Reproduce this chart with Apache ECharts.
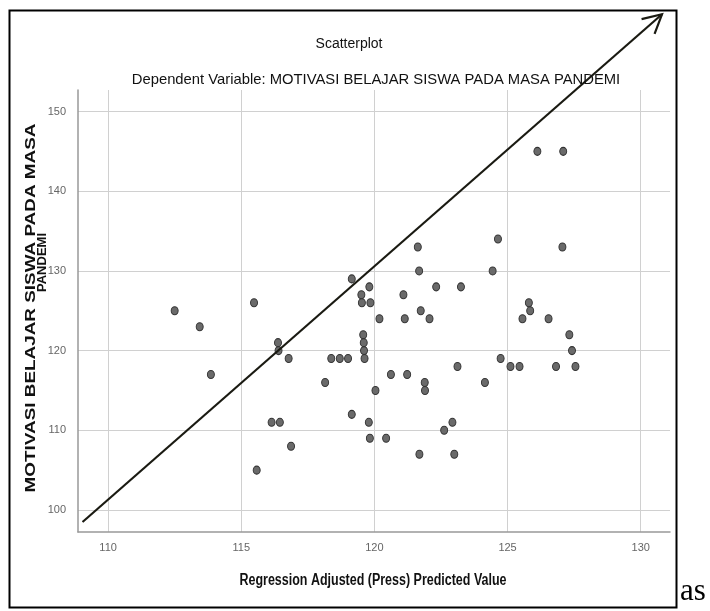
<!DOCTYPE html>
<html>
<head>
<meta charset="utf-8">
<script src="https://cdn.jsdelivr.net/npm/echarts@6/dist/echarts.min.js"></script>
<style>
html, body { margin: 0; padding: 0; background: #fff; }
#chart { width: 710px; height: 611px; }
</style>
</head>
<body>
<div id="chart"></div>
<script>
// Regression Adjusted (Press) Predicted Value
const predicted = [
  112.5, 113.44, 113.86, 115.48, 116.38, 116.4, 116.78, 118.38, 118.7, 119.01,
  119.15, 118.15, 116.14, 116.45, 116.87, 115.58, 119.15, 119.81, 119.51, 119.53,
  119.85, 120.19, 121.09, 121.14, 121.68, 121.63, 121.74, 122.07, 122.32, 119.58,
  119.6, 119.61, 119.63, 120.62, 121.23, 120.04, 121.89, 121.9, 119.79, 119.83,
  120.44, 121.69, 122.62, 122.93, 123.0, 123.12, 124.15, 124.74, 125.11, 125.45,
  126.82, 127.32, 127.42, 127.55, 126.12, 127.09, 124.64, 127.06, 124.44, 123.25,
  125.8, 125.85, 125.56, 126.54
]
// MOTIVASI BELAJAR SISWA PADA MASA PANDEMI
const motivasi = [
  125, 123, 117, 126, 121, 120, 119, 119, 119, 119,
  129, 116, 111, 111, 108, 105, 112, 128, 127, 126,
  126, 124, 127, 124, 130, 133, 125, 124, 128, 122,
  121, 120, 119, 117, 117, 115, 116, 115, 111, 109,
  109, 107, 110, 111, 107, 118, 116, 119, 118, 118,
  118, 122, 120, 118, 145, 145, 134, 133, 130, 128,
  126, 125, 124, 124
]
const xTicks = [110, 115, 120, 125, 130]
const yTicks = [100, 110, 120, 130, 140, 150]
const xRange = [108.87, 131.1]
const yRange = [97.24, 152.7]
// hand-drawn arrow annotation, in data units
const arrowStart = [109.04, 98.5]
const arrowEnd = [130.8, 162.2]

const narrow = 'Liberation Sans Narrow, Liberation Sans, sans-serif'
const labelFont = { fontFamily: narrow, fontSize: 11, color: '#666' }

const chart = echarts.init(document.getElementById('chart'), null, { renderer: 'canvas' })

chart.setOption({
  animation: false,
  backgroundColor: '#fff',
  title: [
    {
      text: 'Scatterplot', left: 344, top: 32, textAlign: 'center',
      textStyle: { fontFamily: narrow, fontSize: 14, fontWeight: 'normal', color: '#111' },
    },
    {
      text: 'Dependent Variable: MOTIVASI BELAJAR SISWA PADA MASA PANDEMI', left: 371, top: 67, textAlign: 'center',
      textStyle: { fontFamily: narrow, fontSize: 14.8, fontWeight: 'normal', color: '#111' },
    },
  ],
  grid: { left: 78, right: 40, top: 90, bottom: 79, containLabel: false },
  xAxis: {
    type: 'value', min: xRange[0], max: xRange[1],
    axisLine: { lineStyle: { color: '#999', width: 1.5 } },
    axisTick: { show: false, customValues: xTicks },
    axisLabel: { ...labelFont, margin: 10, customValues: xTicks },
    splitLine: { show: true, lineStyle: { color: '#d0d0d0', width: 1 } },
  },
  yAxis: {
    type: 'value', min: yRange[0], max: yRange[1],
    axisLine: { show: true, lineStyle: { color: '#999', width: 1.5 } },
    axisTick: { show: false, customValues: yTicks },
    axisLabel: { ...labelFont, margin: 12, customValues: yTicks },
    splitLine: { show: true, lineStyle: { color: '#d0d0d0', width: 1 } },
  },
  series: [
    {
      type: 'scatter',
      symbol: 'circle',
      symbolSize: [7, 8],
      itemStyle: { color: '#6a6a6a', borderColor: '#333', borderWidth: 1, opacity: 1 },
      data: predicted.map((x, i) => [x, motivasi[i]]),
      z: 3,
    },
    {
      type: 'line',
      data: [arrowStart, arrowEnd],
      showSymbol: false,
      clip: false,
      lineStyle: { color: '#1a1a12', width: 2.2 },
      z: 4,
      silent: true,
    },
  ],
})

// arrow head + frame + axis titles
const p0 = chart.convertToPixel({ gridIndex: 0 }, arrowStart)
const p1 = chart.convertToPixel({ gridIndex: 0 }, arrowEnd)
const back = Math.atan2(p0[1] - p1[1], p0[0] - p1[0])
const armLen = 21
const spread = 28 * Math.PI / 180
const arm = (a) => [p1[0] + armLen * Math.cos(a), p1[1] + armLen * Math.sin(a)]

chart.setOption({
  graphic: [
    {
      type: 'polyline',
      shape: { points: [arm(back - spread), p1, arm(back + spread)] },
      style: { stroke: '#1a1a12', lineWidth: 2.2, fill: null, lineJoin: 'miter' },
      z: 10,
    },
    {
      type: 'rect',
      shape: { x: 9.5, y: 10.5, width: 667, height: 597 },
      style: { stroke: '#000', lineWidth: 2, fill: null },
      z: 9,
    },
    {
      type: 'text', x: 373, y: 581, scaleX: 0.78,
      style: {
        text: 'Regression Adjusted (Press) Predicted Value', align: 'center', verticalAlign: 'middle',
        font: 'bold 16px Liberation Sans, Arial, sans-serif', fill: '#111',
      },
    },
    {
      type: 'text', x: 30.5, y: 308, rotation: Math.PI / 2, scaleX: 1.26,
      style: {
        text: 'MOTIVASI BELAJAR SISWA PADA MASA', align: 'center', verticalAlign: 'middle',
        font: 'bold 15px Liberation Sans, Arial, sans-serif', fill: '#111',
      },
    },
    {
      type: 'text', x: 42, y: 262.5, rotation: Math.PI / 2,
      style: {
        text: 'PANDEMI', align: 'center', verticalAlign: 'middle',
        font: 'bold 13px Liberation Sans, Arial, sans-serif', fill: '#111',
      },
    },
    {
      type: 'text', x: 680, y: 607,
      style: {
        text: 'as', align: 'left', verticalAlign: 'bottom',
        font: '31px Liberation Serif, Times New Roman, serif', fill: '#000',
      },
    },
  ],
})
</script>
</body>
</html>
